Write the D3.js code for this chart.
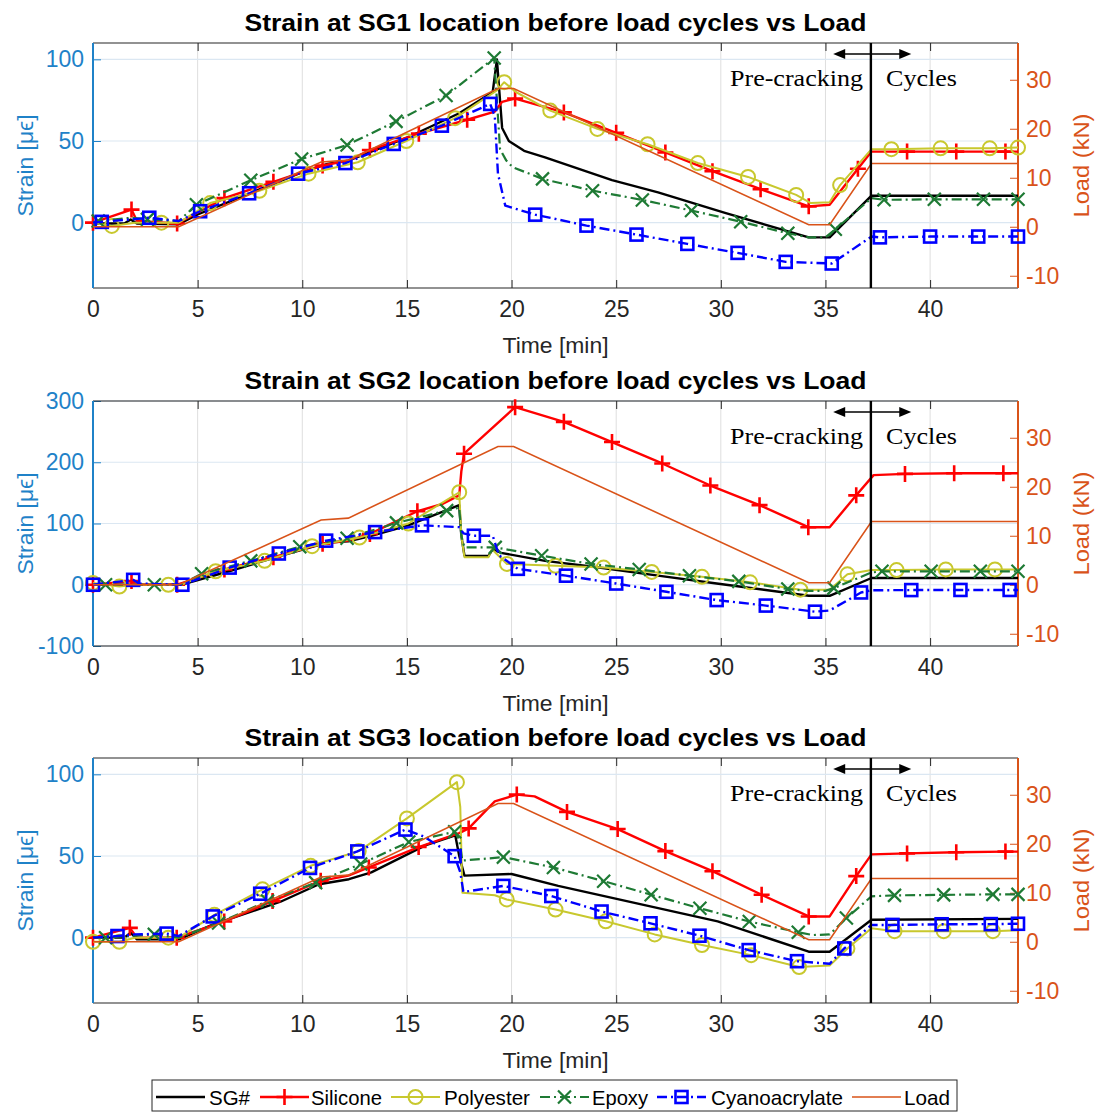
<!DOCTYPE html>
<html><head><meta charset="utf-8">
<script src="https://cdn.jsdelivr.net/npm/d3@7"></script>
<style>body{margin:0;background:#fff}svg{display:block}</style>
</head><body>
<svg id="chart" width="1101" height="1112"></svg>
<script>
// ---------------- DATA ----------------
const X_TICKS = [0,5,10,15,20,25,30,35,40];
const LOAD_TICKS = [-10,0,10,20,30];
const STRAIN_TICKS_1 = [0,50,100];
const STRAIN_TICKS_2 = [-100,0,100,200,300];
const STRAIN_TICKS_3 = [0,50,100];
const TITLES = ["Strain at SG1 location before load cycles vs Load",
                "Strain at SG2 location before load cycles vs Load",
                "Strain at SG3 location before load cycles vs Load"];
const LEGEND_LABELS = ["SG#","Silicone","Polyester","Epoxy","Cyanoacrylate","Load"];
const X_LABEL = "Time [min]";
const Y_LABEL_LEFT = "Strain [\u03BC\u03F5]";
const Y_LABEL_RIGHT = "Load (kN)";
const PHASE_LABELS = ["Pre-cracking","Cycles"];
const PHASE_SPLIT_T = 37.17;
const PHASE_ARROW_T = [35.37, 39.1];

// load (kN) vs time (min)
const LOAD_T  = [0, 4.1, 10.9, 12.2, 19.35, 20.1, 34.2, 35.2, 37.2, 44.2];
const LOAD_KN = [0, 0,   13.2, 13.6, 28.2,  28.2, 0.4,  0.4,  12.9, 12.9];

// strain series: [time, strain, markerFlag]
const SG1_SG = [[0,-0.5],[1.5,-0.5],[1.8,2],[2.1,-0.5],[4.1,-1],[5,5],[7.5,18],[10,31],[11.2,36],[12.2,38],[15,52],[17.5,67],[19.1,80],[19.3,100],[19.55,58],[19.87,50],[20.6,44],[21.6,40],[24.8,26],[27.0,18.6],[30.2,6],[34.2,-9],[35.2,-9],[37.2,16.5],[44.2,16.5]];
const SG1_SILICONE = [[0,0,1],[1.84,8,1],[2.1,1,0],[4.02,-0.5,1],[6.28,15,1],[8.62,25,1],[10.97,35,1],[12.2,38,0],[13.23,44.5,1],[15.57,54.5,1],[17.88,63,1],[19.2,68,0],[19.55,74,0],[20.17,76,1],[22.5,67.5,1],[25.0,55,1],[27.35,43,1],[29.6,31.5,1],[31.9,20.5,1],[34.2,10,1],[35.2,11,0],[36.55,33,1],[37.2,43.5,0],[38.9,43.5,1],[41.25,43.5,1],[43.6,43.5,1],[44.2,43.5,0]];
const SG1_POLYESTER = [[0,0,0],[0.9,-2,1],[2,0,0],[3.27,0,1],[4.1,0,0],[5.6,12,1],[7.95,19.5,1],[10.3,30,1],[12.65,37,1],[14.97,50,1],[17.3,64,1],[19.3,81,0],[19.65,86,1],[20.2,80,0],[21.85,68.6,1],[24.1,57.4,1],[26.5,48,1],[28.9,36.5,1],[31.3,28,1],[33.6,17,1],[34.3,12,0],[35.2,12.5,0],[35.7,23,1],[37.2,45,0],[38.15,45,1],[40.5,45.5,1],[42.85,45.5,1],[44.2,46,1]];
const SG1_EPOXY = [[0,0,0],[0.25,1,1],[1.8,3,0],[2.6,2,1],[4.1,1,0],[4.94,11,1],[7.54,26,1],[9.97,39,1],[12.14,47.5,1],[14.48,62,1],[16.87,77.8,1],[19.17,100.8,1],[19.3,75,0],[19.45,45,0],[19.75,38,0],[20.05,34,0],[21.48,26.8,1],[23.87,19.6,1],[26.25,13.9,1],[28.6,7.4,1],[30.95,0.6,1],[33.2,-6.5,1],[34.2,-9,0],[35.0,-9,0],[35.47,-4,1],[37.2,15,0],[37.8,14,1],[40.2,14.3,1],[42.55,14.3,1],[44.2,14.3,1]];
const SG1_CYANO = [[0,0,0],[0.42,0.5,1],[2.69,3,1],[4.1,1,0],[5.12,7,1],[7.46,18,1],[9.8,30,1],[12.06,36.5,1],[14.37,48.2,1],[16.67,59.4,1],[18.98,72.7,1],[19.2,65,0],[19.35,30,0],[19.7,10.4,0],[21.13,4.9,1],[23.58,-1.8,1],[25.97,-7.3,1],[28.4,-13,1],[30.8,-18.5,1],[33.1,-24,1],[35.3,-25,1],[37.2,-8.5,0],[37.6,-9,1],[40.0,-8.5,1],[42.3,-8.5,1],[44.2,-8.5,1]];

const SG2_SG = [[0,0],[4.2,0],[6.5,22],[8.96,47],[11.2,69],[12.2,71],[13.3,80],[15,96],[17.5,130],[17.6,80],[17.75,47.5],[18.9,47],[19.1,58],[19.5,52],[21.6,39],[24,29],[27,14.8],[29.8,2],[34.2,-18],[35.2,-18],[37.2,11],[44.2,11]];
const SG2_SILICONE = [[0,0,1],[1.84,6,1],[2.1,0,0],[4.02,0,1],[6.28,25,1],[8.62,45,1],[10.97,67,1],[12.2,72,0],[13.23,83,1],[15.5,120,1],[16.7,132,0],[17.5,146,0],[17.6,185,0],[17.73,214,1],[20.17,290,1],[22.5,266,1],[24.8,233,1],[27.2,198,1],[29.5,162,1],[31.85,130,1],[34.18,94,1],[35.2,94,0],[36.47,146,1],[37.3,179,0],[38.8,181,1],[41.15,182,1],[43.5,182,1],[44.2,182,0]];
const SG2_POLYESTER = [[0,3,1],[1.26,-3,1],[2,0,0],[3.6,0,1],[4.2,0,0],[5.86,22,1],[8.2,39,1],[10.47,63,1],[12.73,77,1],[15.07,100,1],[17.5,151,1],[17.6,80,0],[17.75,45,0],[18.9,45,0],[19.06,58,0],[19.78,34,1],[22.1,31,1],[24.4,28,1],[26.7,21,1],[29.1,13,1],[31.4,4,1],[33.8,-8,1],[35.2,-8,0],[36.05,17,1],[37.2,24,0],[38.4,24,1],[40.75,25,1],[43.1,25,1],[44.2,25,0]];
const SG2_EPOXY = [[0,0,0],[0.6,0,1],[2.93,0,1],[4.2,0,0],[5.19,18,1],[7.54,39,1],[9.88,62,1],[12.14,76,1],[14.5,101,1],[16.9,121,1],[17.5,126,0],[17.6,80,0],[17.75,61,0],[19.22,61,1],[21.44,47.5,1],[23.8,34,1],[26.1,25,1],[28.5,14.8,1],[30.86,5.5,1],[33.2,-7,1],[34.2,-10,0],[35.0,-10,0],[35.4,-5.5,1],[37.2,20,0],[37.7,22,1],[40.05,22,1],[42.4,22,1],[44.2,22,1]];
const SG2_CYANO = [[0,0,1],[1.92,8,1],[2.2,2,0],[4.27,0,1],[6.53,28,1],[8.88,51,1],[11.14,72,1],[13.48,86,1],[15.72,97,1],[17.5,94,0],[17.7,84,0],[18.2,80,1],[19.1,80,0],[19.4,48,0],[20.3,26,1],[22.6,14.8,1],[25.0,2,1],[27.4,-11.5,1],[29.8,-25,1],[32.15,-34,1],[34.5,-44,1],[35.2,-42,0],[36.7,-12.6,1],[37.2,-9,0],[39.1,-8.7,1],[41.45,-8.5,1],[43.8,-8.5,1],[44.2,-8.5,0]];

const SG3_SG = [[0,0],[1.5,0],[1.8,3],[2.1,-1],[4.1,-1],[5.72,8],[8.96,22],[10.8,32.7],[12.23,35.8],[13.3,40],[15.88,56.5],[17.31,62.7],[17.5,50],[17.75,38],[20.0,39],[22.23,31.7],[29.85,10],[34.2,-8.6],[35.2,-8.6],[37.2,11],[44.2,11.5]];
const SG3_SILICONE = [[0,0,1],[1.76,6,1],[2.1,0,0],[4.0,0,1],[6.27,9.9,1],[8.58,22.4,1],[10.88,34.8,1],[12.2,38,0],[13.18,43,1],[15.56,55.5,1],[17.5,64,0],[17.95,66.9,1],[19.2,83.4,0],[20.25,87.6,1],[21.1,86.5,0],[22.65,77,1],[25.07,66.5,1],[27.35,53,1],[29.6,40.7,1],[31.95,26.3,1],[34.2,13,1],[35.2,13,0],[36.47,37.7,1],[37.2,51,0],[38.9,51.6,1],[41.25,52.3,1],[43.6,52.7,1],[44.2,52.7,0]];
const SG3_POLYESTER = [[0,-2.5,1],[1.26,-2.5,1],[2,0,0],[3.6,0,1],[4.1,0,0],[5.8,14,1],[8.1,29.6,1],[10.4,44,1],[12.7,53,1],[15.0,73,1],[17.39,95.2,1],[17.55,80,0],[17.65,27.5,0],[19.2,26,0],[19.77,23.4,1],[22.1,17.2,1],[24.5,10,1],[26.84,2,1],[29.1,-4.5,1],[31.45,-10.7,1],[33.74,-18,1],[35.2,-17,0],[36.05,-6.6,1],[37.2,5.7,0],[38.3,4,1],[40.65,4,1],[43.0,4,1],[44.2,4.5,0]];
const SG3_EPOXY = [[0,0,0],[0.6,0,1],[2.93,2,1],[4.1,0,0],[6.0,9,1],[8.34,22.4,1],[10.64,33.7,1],[12.79,45.1,1],[15.09,58.6,1],[17.28,64.8,1],[17.5,60,0],[17.65,47.2,0],[19.61,49.3,1],[22.0,43,1],[24.4,34.6,1],[26.67,26.3,1],[29.0,18,1],[31.36,9.9,1],[33.7,3.3,1],[34.4,1.6,0],[35.2,2,0],[36.0,12,1],[37.2,25.3,0],[38.3,25.9,1],[40.65,26.2,1],[43.0,26.5,1],[44.2,26.5,1]];
const SG3_CYANO = [[0,0,0],[1.17,1,1],[2.0,2,0],[3.52,2.5,1],[4.1,1,0],[5.72,13,1],[7.99,26.9,1],[10.37,42.7,1],[12.63,52.8,1],[14.93,66.2,1],[15.8,62,0],[17.28,49.9,1],[17.55,40,0],[17.7,28,0],[19.61,31.7,1],[21.9,25.5,1],[24.3,16,1],[26.64,8.8,1],[28.98,1.2,1],[31.33,-7.6,1],[33.64,-14.4,1],[35.2,-16,0],[35.9,-6.6,1],[37.2,7.8,0],[38.2,7.8,1],[40.55,8.2,1],[42.9,8.3,1],[44.2,8.5,1]];

// ---------------- LAYOUT / STYLE ----------------
const FONT = "'Liberation Sans', Arial, Helvetica, sans-serif";
const SERIF = "'Liberation Serif', 'Times New Roman', serif";
const C_LEFT = "#1f82c8", C_RIGHT = "#D95319", C_AX = "#262626";
const PLOT_L = 93, PLOT_R = 1018, PLOT_H = 245;
const STYLE = [
  {key:"sg",        color:"#000000", width:2.4, dash:null,       marker:null},
  {key:"silicone",  color:"#ff0000", width:2.4, dash:null,       marker:"plus"},
  {key:"polyester", color:"#c8c82e", width:2.0, dash:null,       marker:"circle"},
  {key:"epoxy",     color:"#1e7a34", width:2.2, dash:"10,4,2,4", marker:"x"},
  {key:"cyano",     color:"#0000ff", width:2.4, dash:"10,4,2,4", marker:"square"},
];
const LOAD_STYLE = {color:"#D95319", width:1.6};
const fmt = d => String(d);

const PANELS = [
  {top:43,  title:TITLES[0], sDomain:[-40,110],  sTicks:STRAIN_TICKS_1, data:[SG1_SG,SG1_SILICONE,SG1_POLYESTER,SG1_EPOXY,SG1_CYANO]},
  {top:401, title:TITLES[1], sDomain:[-100,300], sTicks:STRAIN_TICKS_2, data:[SG2_SG,SG2_SILICONE,SG2_POLYESTER,SG2_EPOXY,SG2_CYANO]},
  {top:758, title:TITLES[2], sDomain:[-40,110],  sTicks:STRAIN_TICKS_3, data:[SG3_SG,SG3_SILICONE,SG3_POLYESTER,SG3_EPOXY,SG3_CYANO]},
];

const svg = d3.select("#chart");
svg.append("rect").attr("width",1101).attr("height",1112).attr("fill","#fff");

const x = d3.scaleLinear().domain([0,44.2]).range([PLOT_L, PLOT_R]);

function drawMarker(g, type, cx, cy, color){
  if(type==="plus"){
    const h=8;
    g.append("path").attr("d",`M${cx-h},${cy}H${cx+h}M${cx},${cy-h}V${cy+h}`)
      .attr("stroke",color).attr("stroke-width",2.6).attr("fill","none");
  } else if(type==="circle"){
    g.append("circle").attr("cx",cx).attr("cy",cy).attr("r",7)
      .attr("stroke",color).attr("stroke-width",2).attr("fill","none");
  } else if(type==="x"){
    const h=6.5;
    g.append("path").attr("d",`M${cx-h},${cy-h}L${cx+h},${cy+h}M${cx-h},${cy+h}L${cx+h},${cy-h}`)
      .attr("stroke",color).attr("stroke-width",2.2).attr("fill","none");
  } else if(type==="square"){
    const h=6;
    g.append("rect").attr("x",cx-h).attr("y",cy-h).attr("width",2*h).attr("height",2*h)
      .attr("stroke",color).attr("stroke-width",2.6).attr("fill","none");
  }
}

function styleAxis(g, color, size){
  g.selectAll("text").attr("fill",color).style("font-family",FONT).style("font-size",size+"px");
  g.selectAll("line").attr("stroke",color);
  g.select(".domain").remove();
}

PANELS.forEach(p=>{
  const top=p.top, bot=top+PLOT_H;
  const yS = d3.scaleLinear().domain(p.sDomain).range([bot, top]);
  const yL = d3.scaleLinear().domain([-12.5,37.5]).range([bot, top]);
  const g = svg.append("g");

  // grid
  g.append("g").selectAll("line").data(X_TICKS.filter(t=>t>0)).join("line")
    .attr("x1",d=>x(d)).attr("x2",d=>x(d)).attr("y1",top).attr("y2",bot)
    .attr("stroke","#dedede").attr("stroke-width",1);
  g.append("g").selectAll("line").data(p.sTicks).join("line")
    .attr("x1",PLOT_L).attr("x2",PLOT_R).attr("y1",d=>yS(d)).attr("y2",d=>yS(d))
    .attr("stroke","#dbe7f2").attr("stroke-width",1.2);

  // title
  g.append("text").attr("x",(PLOT_L+PLOT_R)/2).attr("y",top-12).attr("text-anchor","middle")
    .attr("textLength",622).attr("lengthAdjust","spacingAndGlyphs")
    .style("font-family",FONT).style("font-size","24px").style("font-weight","bold")
    .attr("fill","#000").text(p.title);

  // axes
  const ax = g.append("g").attr("transform",`translate(0,${bot})`)
    .call(d3.axisBottom(x).tickValues(X_TICKS).tickSize(-8).tickSizeOuter(0).tickPadding(13).tickFormat(fmt));
  styleAxis(ax, C_AX, 23);
  const axT = g.append("g").attr("transform",`translate(0,${top})`)
    .call(d3.axisTop(x).tickValues(X_TICKS).tickSize(-8).tickSizeOuter(0).tickFormat(""));
  styleAxis(axT, C_AX, 23);
  const ayl = g.append("g").attr("transform",`translate(${PLOT_L},0)`)
    .call(d3.axisLeft(yS).tickValues(p.sTicks).tickSize(-8).tickSizeOuter(0).tickPadding(9).tickFormat(fmt));
  styleAxis(ayl, C_LEFT, 23);
  const ayr = g.append("g").attr("transform",`translate(${PLOT_R},0)`)
    .call(d3.axisRight(yL).tickValues(LOAD_TICKS).tickSize(-8).tickSizeOuter(0).tickPadding(8).tickFormat(fmt));
  styleAxis(ayr, C_RIGHT, 23);

  // box lines
  g.append("line").attr("x1",PLOT_L).attr("x2",PLOT_R).attr("y1",top).attr("y2",top).attr("stroke",C_AX).attr("stroke-width",1.2);
  g.append("line").attr("x1",PLOT_L).attr("x2",PLOT_R).attr("y1",bot).attr("y2",bot).attr("stroke",C_AX).attr("stroke-width",1.2);
  g.append("line").attr("x1",PLOT_L).attr("x2",PLOT_L).attr("y1",top).attr("y2",bot).attr("stroke",C_LEFT).attr("stroke-width",2);
  g.append("line").attr("x1",PLOT_R).attr("x2",PLOT_R).attr("y1",top).attr("y2",bot).attr("stroke",C_RIGHT).attr("stroke-width",2);

  // axis labels
  g.append("text").attr("x",(PLOT_L+PLOT_R)/2).attr("y",bot+65).attr("text-anchor","middle")
    .attr("textLength",106).attr("lengthAdjust","spacingAndGlyphs")
    .style("font-family",FONT).style("font-size","22px").attr("fill",C_AX).text(X_LABEL);
  g.append("text").attr("transform",`translate(33,${top+PLOT_H/2}) rotate(-90)`).attr("text-anchor","middle")
    .attr("textLength",102).attr("lengthAdjust","spacingAndGlyphs")
    .style("font-family",FONT).style("font-size","22px").attr("fill",C_LEFT).text(Y_LABEL_LEFT);
  g.append("text").attr("transform",`translate(1089,${top+PLOT_H/2}) rotate(-90)`).attr("text-anchor","middle")
    .attr("textLength",104).attr("lengthAdjust","spacingAndGlyphs")
    .style("font-family",FONT).style("font-size","22px").attr("fill",C_RIGHT).text(Y_LABEL_RIGHT);

  // strain series
  const line = d3.line().x(d=>x(d[0])).y(d=>yS(d[1]));
  p.data.forEach((ser,i)=>{
    const st = STYLE[i];
    g.append("path").datum(ser).attr("d",line).attr("fill","none")
      .attr("stroke",st.color).attr("stroke-width",st.width)
      .attr("stroke-linejoin","round")
      .attr("stroke-dasharray",st.dash);
    if(st.marker){
      const mg = g.append("g");
      ser.filter(d=>d[2]).forEach(d=>drawMarker(mg, st.marker, x(d[0]), yS(d[1]), st.color));
    }
  });

  // load series
  const loadPts = LOAD_T.map((t,i)=>[t, LOAD_KN[i]]);
  g.append("path").datum(loadPts)
    .attr("d", d3.line().x(d=>x(d[0])).y(d=>yL(d[1])))
    .attr("fill","none").attr("stroke",LOAD_STYLE.color).attr("stroke-width",LOAD_STYLE.width);

  // phase split line + annotations
  g.append("line").attr("x1",x(PHASE_SPLIT_T)).attr("x2",x(PHASE_SPLIT_T)).attr("y1",top).attr("y2",bot)
    .attr("stroke","#000").attr("stroke-width",2.4);
  const ay = top+11, a0=x(PHASE_ARROW_T[0]), a1=x(PHASE_ARROW_T[1]);
  g.append("line").attr("x1",a0+6).attr("x2",a1-6).attr("y1",ay).attr("y2",ay).attr("stroke","#000").attr("stroke-width",1.6);
  g.append("path").attr("d",`M${a0},${ay}L${a0+12},${ay-5}L${a0+12},${ay+5}Z`).attr("fill","#000");
  g.append("path").attr("d",`M${a1},${ay}L${a1-12},${ay-5}L${a1-12},${ay+5}Z`).attr("fill","#000");
  g.append("text").attr("x",863).attr("y",top+43).attr("text-anchor","end")
    .attr("textLength",133).attr("lengthAdjust","spacingAndGlyphs")
    .style("font-family",SERIF).style("font-size","24px").attr("fill","#000").text(PHASE_LABELS[0]);
  g.append("text").attr("x",886).attr("y",top+43)
    .attr("textLength",71).attr("lengthAdjust","spacingAndGlyphs")
    .style("font-family",SERIF).style("font-size","24px").attr("fill","#000").text(PHASE_LABELS[1]);
});

// legend
const LG_LINE_X = [156,260,391,540,657,852];
const LG_TEXT_X = [209,311,444,592,711,904];
const LG_TEXT_W = [41,71,86,56,132,46];
const lg = svg.append("g");
lg.append("rect").attr("x",152).attr("y",1080).attr("width",805).attr("height",31)
  .attr("fill","#fff").attr("stroke",C_AX).attr("stroke-width",1);
const ly = 1097;
LEGEND_LABELS.forEach((lab,i)=>{
  const st = i<5 ? STYLE[i] : {color:LOAD_STYLE.color,width:LOAD_STYLE.width,dash:null,marker:null};
  const x0 = LG_LINE_X[i], x1 = x0+49;
  lg.append("line").attr("x1",x0).attr("x2",x1).attr("y1",ly).attr("y2",ly)
    .attr("stroke",st.color).attr("stroke-width",st.width).attr("stroke-dasharray",st.dash);
  if(st.marker) drawMarker(lg, st.marker, (x0+x1)/2, ly, st.color);
  lg.append("text").attr("x",LG_TEXT_X[i]).attr("y",ly+8)
    .attr("textLength",LG_TEXT_W[i]).attr("lengthAdjust","spacingAndGlyphs")
    .style("font-family",FONT).style("font-size","21px").attr("fill","#000").text(lab);
});
</script>
</body></html>
